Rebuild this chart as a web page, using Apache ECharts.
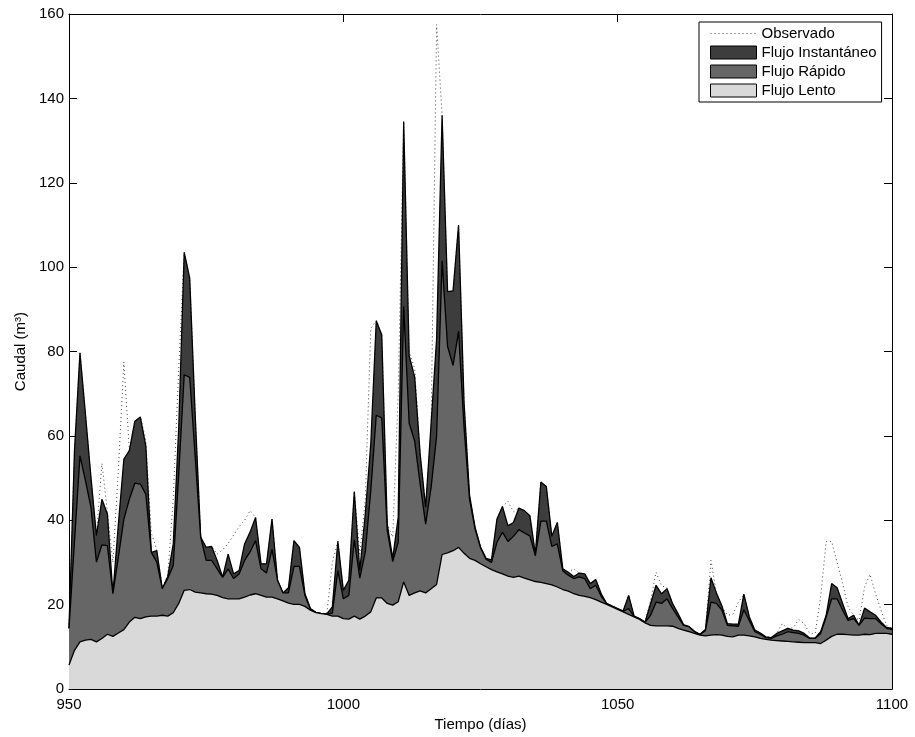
<!DOCTYPE html>
<html>
<head>
<meta charset="utf-8">
<title>Caudal</title>
<script src="https://cdn.jsdelivr.net/npm/echarts@6/dist/echarts.min.js"></script>
<style>
  html, body { margin: 0; padding: 0; background: #fff; }
  #chart { width: 915px; height: 737px; }
</style>
</head>
<body>
<div id="chart"></div>
<script>
// Daily time axis (días 950 … 1100)
const firstDay = 950;
const lastDay = 1100;
const xTicks = [950, 1000, 1050, 1100];
const yTicks = [0, 20, 40, 60, 80, 100, 120, 140, 160];

// Level reached by Flujo Lento (base flow)
const flujoLento = [
  5.7, 9.2, 11.2, 11.6, 11.8, 11.2, 12.0, 13.0, 12.5, 13.3,
  14.1, 15.9, 17.0, 16.7, 17.1, 17.3, 17.3, 17.5, 17.3, 18.1,
  20.3, 23.4, 23.6, 23.0, 22.8, 22.6, 22.5, 22.2, 21.7, 21.4,
  21.4, 21.4, 21.8, 22.3, 22.6, 22.2, 21.8, 21.8, 21.4, 20.9,
  20.4, 20.1, 20.1, 19.6, 18.7, 18.1, 17.9, 17.7, 17.3, 17.3,
  16.7, 16.6, 17.3, 16.6, 17.3, 18.3, 21.6, 21.6, 20.3, 19.9,
  20.7, 25.4, 22.2, 22.8, 23.3, 22.8, 23.8, 24.8, 31.9, 32.3,
  32.8, 33.6, 32.2, 31.0, 30.5, 29.7, 29.0, 28.3, 27.8, 27.3,
  26.8, 26.5, 26.8, 26.3, 25.9, 25.5, 25.3, 25.0, 24.7, 24.2,
  23.6, 23.2, 22.6, 22.2, 22.0, 21.7, 21.2, 20.6, 20.1, 19.5,
  18.9, 18.3, 17.7, 17.1, 16.5, 15.7, 15.1, 15.0, 15.0, 15.0,
  14.9, 14.4, 14.0, 13.6, 13.2, 12.8, 12.6, 12.8, 12.9, 12.8,
  12.5, 12.4, 12.8, 12.8, 12.6, 12.4, 12.0, 11.8, 11.6, 11.5,
  11.4, 11.3, 11.2, 11.1, 11.0, 11.0, 11.0, 10.8, 11.6, 12.5,
  13.0, 13.0, 12.9, 12.8, 12.8, 13.0, 12.9, 13.2, 13.2, 13.2,
  13.0
];

// Level reached by Lento + Rápido
const flujoRapido = [
  14.4, 35.0, 55.3, 49.4, 43.1, 30.1, 34.2, 34.0, 22.6, 31.3,
  40.3, 45.0, 48.8, 48.6, 46.2, 32.4, 30.1, 23.8, 26.2, 29.3,
  51.0, 74.5, 73.9, 55.0, 36.0, 30.5, 30.5, 28.5, 26.5, 28.5,
  26.2, 27.3, 30.5, 32.5, 35.2, 28.5, 27.5, 33.1, 25.8, 22.8,
  22.8, 29.1, 29.1, 22.2, 18.9, 18.1, 17.9, 17.7, 18.0, 28.1,
  21.4, 22.2, 35.4, 26.3, 32.5, 47.0, 64.9, 64.3, 37.6, 30.2,
  34.8, 90.7, 63.0, 58.8, 48.6, 39.1, 47.8, 60.0, 101.5, 81.2,
  76.7, 84.8, 62.0, 45.0, 38.0, 33.5, 30.8, 30.0, 34.8, 37.2,
  35.0, 36.2, 37.8, 37.0, 36.3, 31.6, 39.8, 39.8, 33.8, 34.4,
  28.0, 27.0, 26.2, 26.6, 26.2, 23.8, 24.6, 22.0, 20.2, 19.6,
  19.0, 18.4, 19.1, 17.2, 16.6, 15.8, 17.5, 20.6, 20.3, 21.4,
  19.1, 17.1, 15.1, 14.8, 13.6, 12.9, 13.9, 20.6, 20.3, 18.7,
  15.1, 15.0, 14.9, 18.8, 16.2, 13.6, 13.0, 12.2, 12.0, 12.6,
  13.0, 13.6, 13.4, 13.2, 12.8, 12.0, 12.0, 13.2, 17.1, 21.4,
  21.4, 18.7, 16.3, 16.7, 15.1, 16.8, 16.7, 16.7, 15.5, 14.4,
  14.1
];

// Level reached by Lento + Rápido + Instantáneo (total simulated)
const flujoInstantaneo = [
  14.4, 56.5, 79.7, 65.1, 50.2, 36.4, 45.0, 41.5, 22.6, 39.1,
  54.5, 56.5, 63.5, 64.5, 57.6, 32.4, 32.8, 23.8, 26.7, 34.4,
  62.0, 103.5, 97.4, 65.0, 36.0, 33.6, 33.8, 30.5, 26.5, 32.0,
  27.3, 28.1, 34.4, 37.2, 40.7, 29.7, 29.7, 40.3, 25.8, 22.8,
  24.0, 35.2, 33.6, 22.6, 19.1, 18.2, 17.9, 17.8, 19.5, 35.0,
  23.4, 25.8, 46.8, 28.1, 41.5, 58.0, 87.3, 84.0, 39.1, 31.0,
  40.7, 134.5, 79.0, 74.0, 55.7, 43.1, 63.0, 83.0, 136.0, 94.2,
  94.4, 110.0, 68.0, 46.0, 38.4, 33.7, 31.0, 30.6, 40.3, 43.3,
  38.7, 39.5, 42.9, 42.3, 41.1, 32.0, 49.1, 48.0, 36.2, 39.5,
  28.5, 27.7, 26.7, 27.5, 27.3, 25.0, 26.0, 22.6, 20.3, 19.7,
  19.1, 18.5, 22.2, 17.3, 16.7, 15.9, 20.3, 24.6, 22.6, 23.8,
  20.3, 17.9, 15.3, 14.8, 13.7, 13.0, 14.1, 26.4, 22.8, 19.7,
  15.5, 15.4, 15.4, 22.5, 17.1, 14.0, 13.3, 12.4, 12.2, 13.2,
  13.8, 14.4, 14.0, 13.8, 13.2, 12.1, 12.1, 13.6, 17.5, 25.0,
  24.0, 20.3, 16.7, 17.5, 15.1, 19.2, 18.3, 17.5, 15.9, 14.6,
  14.4
];

// Observed discharge
const observado = [
  14.4, 56.5, 79.7, 65.1, 50.2, 36.4, 53.5, 42.0, 30.0, 52.0,
  77.5, 56.5, 63.5, 64.5, 59.0, 37.0, 33.0, 24.0, 27.0, 45.0,
  76.0, 103.5, 97.4, 65.0, 36.0, 33.6, 33.8, 32.0, 33.0, 34.5,
  36.5, 38.5, 40.0, 42.3, 40.7, 29.7, 29.7, 40.3, 25.8, 22.8,
  24.0, 35.2, 33.6, 22.6, 19.1, 18.2, 17.9, 18.0, 30.0, 35.0,
  23.4, 25.8, 46.8, 32.0, 45.0, 85.5, 87.3, 84.0, 39.1, 36.0,
  70.0, 134.5, 80.0, 76.0, 55.7, 43.1, 62.0, 157.5, 136.0, 94.2,
  94.4, 110.0, 68.0, 46.0, 38.4, 33.7, 31.0, 30.6, 40.3, 43.3,
  44.5, 42.0, 42.9, 42.3, 41.1, 32.0, 49.1, 48.0, 36.2, 39.5,
  28.5, 27.7, 28.5, 27.5, 27.3, 25.0, 26.0, 22.6, 20.3, 19.7,
  19.1, 18.5, 22.2, 17.3, 16.7, 15.9, 21.0, 27.7, 24.5, 24.0,
  20.3, 17.9, 15.3, 14.8, 13.7, 13.0, 14.1, 30.5, 22.8, 19.7,
  17.5, 17.7, 20.6, 22.5, 17.1, 14.0, 13.3, 12.4, 12.2, 13.2,
  15.5, 14.4, 14.5, 16.5, 15.5, 13.2, 13.2, 22.0, 35.0, 35.0,
  30.0, 25.0, 19.5, 17.5, 16.3, 24.2, 27.2, 22.6, 18.7, 15.1,
  14.4
];

const seriesNames = ['Observado', 'Flujo Instantáneo', 'Flujo Rápido', 'Flujo Lento'];
const fillColors = ['#3d3d3d', '#666666', '#d9d9d9'];

const days = flujoLento.map((_, i) => firstDay + i);
const pairs = arr => arr.map((v, i) => [days[i], v]);

const font = '"Liberation Sans", Arial, Helvetica, sans-serif';
const txt = { color: '#000', fontFamily: font, fontSize: 15 };
const plainNumber = v => String(v);

function areaSeries(name, values, fill) {
  return {
    name: name,
    type: 'line',
    data: pairs(values),
    symbol: 'none',
    showSymbol: false,
    silent: true,
    color: fill,
    lineStyle: { color: '#000', width: 1.3 },
    areaStyle: { color: fill, opacity: 1, origin: 'start' },
    animation: false
  };
}

function boxAxis(pos, isX) {
  return {
    type: 'value',
    position: pos,
    min: isX ? firstDay : yTicks[0],
    max: isX ? lastDay : yTicks[yTicks.length - 1],
    interval: isX ? xTicks[1] - xTicks[0] : yTicks[1] - yTicks[0],
    axisLine: { show: true, onZero: false, lineStyle: { color: '#000', width: 1 } },
    axisTick: { show: true, inside: true, length: 8, lineStyle: { color: '#000', width: 1 } },
    splitLine: { show: false },
    axisLabel: { show: false }
  };
}

const xBottom = Object.assign(boxAxis('bottom', true), {
  axisLabel: Object.assign({ show: true, margin: 8, formatter: plainNumber }, txt),
  name: 'Tiempo (días)',
  nameLocation: 'middle',
  nameGap: 22,
  nameTextStyle: txt
});
const xTop = boxAxis('top', true);
const yLeft = Object.assign(boxAxis('left', false), {
  axisLabel: Object.assign({ show: true, margin: 5, formatter: plainNumber }, txt),
  name: 'Caudal (m³)',
  nameLocation: 'middle',
  nameGap: 40,
  nameRotate: 90,
  nameTextStyle: txt
});
const yRight = boxAxis('right', false);

const chart = echarts.init(document.getElementById('chart'), null, { renderer: 'canvas' });
chart.setOption({
  backgroundColor: '#fff',
  animation: false,
  grid: { left: 69, right: 23, top: 14, bottom: 44.5, containLabel: false },
  xAxis: [xBottom, xTop],
  yAxis: [yLeft, yRight],
  legend: {
    orient: 'vertical',
    left: 699,
    top: 22,
    padding: [4, 5, 4, 11],
    itemWidth: 46,
    itemHeight: 13,
    itemGap: 4,
    backgroundColor: '#fff',
    borderColor: '#000',
    borderWidth: 1,
    borderRadius: 0,
    selectedMode: false,
    textStyle: Object.assign({ lineHeight: 15 }, txt),
    data: [
      { name: seriesNames[0], itemStyle: { opacity: 0 }, lineStyle: { color: '#444', width: 1, type: [1, 3] } },
      { name: seriesNames[1], icon: 'rect', itemStyle: { color: fillColors[0], borderColor: '#000', borderWidth: 1 } },
      { name: seriesNames[2], icon: 'rect', itemStyle: { color: fillColors[1], borderColor: '#000', borderWidth: 1 } },
      { name: seriesNames[3], icon: 'rect', itemStyle: { color: fillColors[2], borderColor: '#000', borderWidth: 1 } }
    ]
  },
  series: [
    {
      name: seriesNames[0],
      type: 'line',
      data: pairs(observado),
      symbol: 'none',
      showSymbol: false,
      silent: true,
      color: '#444',
      lineStyle: { color: '#444', width: 1, type: [1, 3] },
      z: 1,
      animation: false
    },
    Object.assign(areaSeries(seriesNames[1], flujoInstantaneo, fillColors[0]), { z: 2 }),
    Object.assign(areaSeries(seriesNames[2], flujoRapido, fillColors[1]), { z: 3 }),
    Object.assign(areaSeries(seriesNames[3], flujoLento, fillColors[2]), { z: 4 })
  ]
});
</script>
</body>
</html>
